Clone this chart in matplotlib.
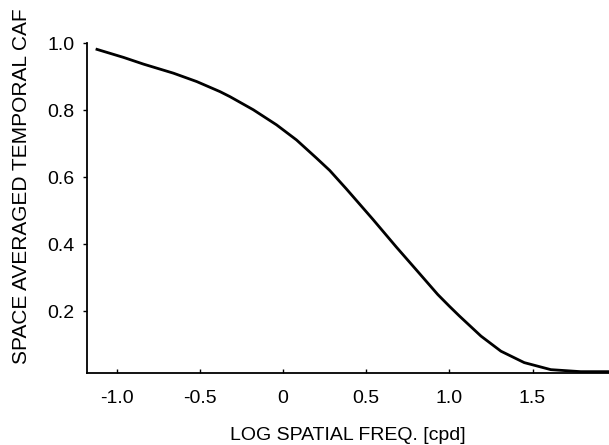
import matplotlib
matplotlib.use("Agg")
import matplotlib.pyplot as plt

plt.rcParams['font.family'] = ['Liberation Sans', 'DejaVu Sans']

# Curve
log_freq = [-1.12, -0.96, -0.84, -0.66, -0.52, -0.38, -0.32, -0.18, -0.04,
            0.08, 0.20, 0.28, 0.38, 0.54, 0.68, 0.80, 0.93, 1.00, 1.06,
            1.19, 1.31, 1.45, 1.61, 1.79, 1.96]
caf = [0.981, 0.957, 0.937, 0.910, 0.885, 0.855, 0.840, 0.801, 0.756,
       0.711, 0.657, 0.620, 0.565, 0.474, 0.392, 0.324, 0.250, 0.215, 0.186,
       0.126, 0.081, 0.047, 0.026, 0.020, 0.020]

xticks = [-1.0, -0.5, 0.0, 0.5, 1.0, 1.5]
xticklabels = ['-1.0', '-0.5', '0', '0.5', '1.0', '1.5']
yticks = [0.2, 0.4, 0.6, 0.8, 1.0]
yticklabels = ['0.2', '0.4', '0.6', '0.8', '1.0']

fig = plt.figure(figsize=(6.09, 4.45), dpi=100)
ax = fig.add_axes([87/609, 1 - 373/445, 1 - 87/609, (373 - 43)/445])

ax.plot(log_freq, caf, color='black', lw=2.0, solid_joinstyle='round')

ax.set_xlim(-1.18, 1.96)
ax.set_ylim(0.016, 1.0)
for s in ['top', 'right']:
    ax.spines[s].set_visible(False)
for s in ['left', 'bottom']:
    ax.spines[s].set_linewidth(1.3)

ax.set_xticks(xticks)
ax.set_xticklabels(xticklabels, fontsize=14)
ax.set_yticks(yticks)
ax.set_yticklabels(yticklabels, fontsize=14)
ax.tick_params(axis='x', direction='in', length=3, width=1, pad=12)
ax.tick_params(axis='y', direction='out', length=3, width=1, pad=6)

fig.text(22/609, 1 - 186/445, 'SPACE AVERAGED TEMPORAL CAF', rotation=90,
         ha='center', va='center', fontsize=15)
fig.text(348/609, 1 - 436/445, 'LOG SPATIAL FREQ. [cpd]', ha='center',
         va='center', fontsize=14)

fig.savefig('out.png', dpi=100)
